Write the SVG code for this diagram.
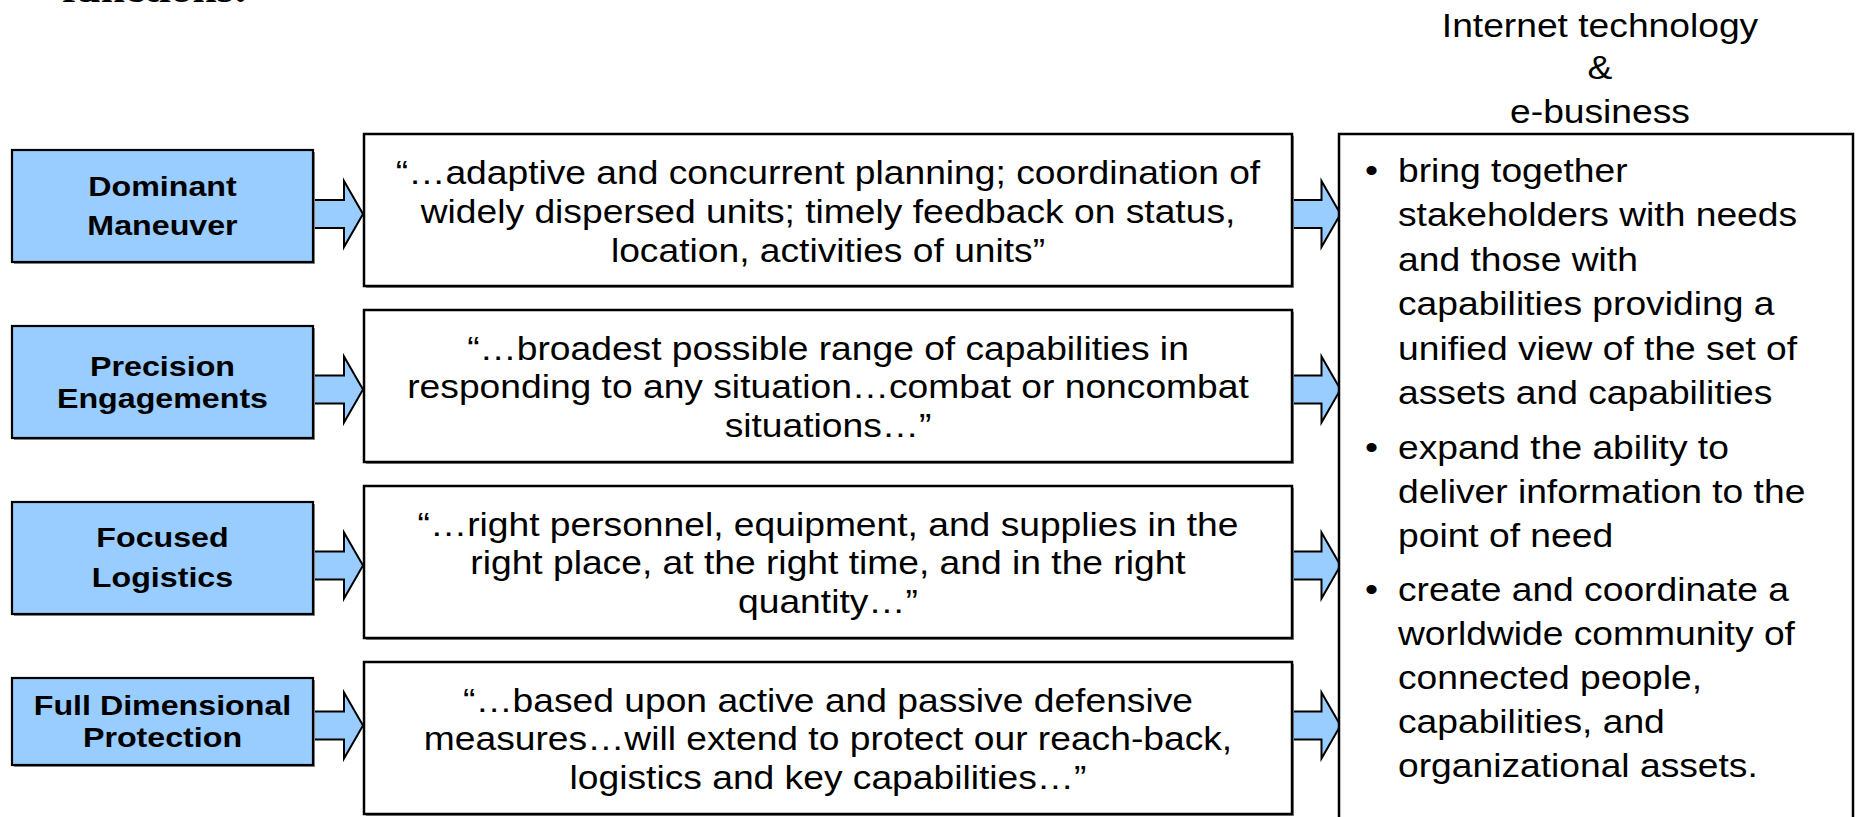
<svg xmlns="http://www.w3.org/2000/svg" xmlns:xlink="http://www.w3.org/1999/xlink" width="1856" height="817" viewBox="0 0 1856 817">
<style>
.bg{fill:#ffffff}
.blue{fill:#99CCFF;stroke:#000;stroke-width:2.2}
.white{fill:#ffffff;stroke:#000;stroke-width:2.5}
.shadow{fill:#8a8a8a}
.arrow{fill:#99CCFF;stroke:#000;stroke-width:2;stroke-linejoin:miter}
.lbl{font-family:"Liberation Sans",Arial,sans-serif;font-weight:bold;font-size:28.5px;fill:#000;text-anchor:middle}
.q{font-family:"Liberation Sans",Arial,sans-serif;font-size:32.5px;fill:#000;text-anchor:middle}
.b{font-family:"Liberation Sans",Arial,sans-serif;font-size:32.5px;fill:#000}
.hd{font-family:"Liberation Serif","Times New Roman",serif;font-weight:bold;font-size:38px;fill:#000}
</style>
<defs>
<path id="arr" d="M0,-14 H30.5 V-33 L49.5,0 L30.5,33 V14 H0 Z"/>
</defs>
<rect class="bg" x="0" y="0" width="1856" height="817"/>
<text class="hd" transform="translate(62,2) scale(1.145,1)">functions:</text>

<g id="connectors">
<use xlink:href="#arr" class="arrow" transform="translate(313.5,214)"/>
<use xlink:href="#arr" class="arrow" transform="translate(313.5,389.5)"/>
<use xlink:href="#arr" class="arrow" transform="translate(313.5,565.5)"/>
<use xlink:href="#arr" class="arrow" transform="translate(313.5,725.5)"/>
<use xlink:href="#arr" class="arrow" transform="translate(1291,214)"/>
<use xlink:href="#arr" class="arrow" transform="translate(1291,389.5)"/>
<use xlink:href="#arr" class="arrow" transform="translate(1291,565.5)"/>
<use xlink:href="#arr" class="arrow" transform="translate(1291,725.5)"/>
</g>

<g id="dominant-maneuver">
<rect class="shadow" x="14" y="152" width="301" height="112"/>
<rect class="blue" x="12" y="150" width="301" height="112"/>
<text class="lbl" transform="translate(162.5,196) scale(1.13,1)"><tspan x="0" y="0">Dominant</tspan><tspan x="0" y="39">Maneuver</tspan></text>
</g>
<g id="precision-engagements">
<rect class="shadow" x="14" y="328" width="301" height="112"/>
<rect class="blue" x="12" y="326" width="301" height="112"/>
<text class="lbl" transform="translate(162.5,376) scale(1.13,1)"><tspan x="0" y="0">Precision</tspan><tspan x="0" y="32">Engagements</tspan></text>
</g>
<g id="focused-logistics">
<rect class="shadow" x="14" y="504" width="301" height="112"/>
<rect class="blue" x="12" y="502" width="301" height="112"/>
<text class="lbl" transform="translate(162.5,547) scale(1.13,1)"><tspan x="0" y="0">Focused</tspan><tspan x="0" y="40">Logistics</tspan></text>
</g>
<g id="full-dimensional-protection">
<rect class="shadow" x="14" y="680" width="301" height="87"/>
<rect class="blue" x="12" y="678" width="301" height="87"/>
<text class="lbl" transform="translate(162.5,715) scale(1.13,1)"><tspan x="0" y="0">Full Dimensional</tspan><tspan x="0" y="32">Protection</tspan></text>
</g>

<g id="quote-maneuver">
<rect class="shadow" x="366" y="136" width="928" height="152"/>
<rect class="white" x="364" y="134" width="928" height="152"/>
<text class="q" transform="translate(828,184) scale(1.145,1)"><tspan x="0" y="0">“…adaptive and concurrent planning; coordination of</tspan><tspan x="0" y="39">widely dispersed units; timely feedback on status,</tspan><tspan x="0" y="78">location, activities of units”</tspan></text>
</g>
<g id="quote-engagements">
<rect class="shadow" x="366" y="312" width="928" height="152"/>
<rect class="white" x="364" y="310" width="928" height="152"/>
<text class="q" transform="translate(828,360) scale(1.145,1)"><tspan x="0" y="0">“…broadest possible range of capabilities in</tspan><tspan x="0" y="38.5">responding to any situation…combat or noncombat</tspan><tspan x="0" y="77">situations…”</tspan></text>
</g>
<g id="quote-logistics">
<rect class="shadow" x="366" y="488" width="928" height="152"/>
<rect class="white" x="364" y="486" width="928" height="152"/>
<text class="q" transform="translate(828,536) scale(1.145,1)"><tspan x="0" y="0">“…right personnel, equipment, and supplies in the</tspan><tspan x="0" y="38.5">right place, at the right time, and in the right</tspan><tspan x="0" y="77">quantity…”</tspan></text>
</g>
<g id="quote-protection">
<rect class="shadow" x="366" y="664" width="928" height="152"/>
<rect class="white" x="364" y="662" width="928" height="152"/>
<text class="q" transform="translate(828,712) scale(1.145,1)"><tspan x="0" y="0">“…based upon active and passive defensive</tspan><tspan x="0" y="38.5">measures…will extend to protect our reach-back,</tspan><tspan x="0" y="77">logistics and key capabilities…”</tspan></text>
</g>

<g id="internet-ebusiness">
<text class="q" transform="translate(1600,37) scale(1.145,1)"><tspan x="0" y="0">Internet technology</tspan><tspan x="0" y="42">&amp;</tspan><tspan x="0" y="86.5">e-business</tspan></text>
<rect class="white" x="1339" y="134" width="514" height="720"/>
<text class="b" transform="translate(1365,182) scale(1.145,1)"><tspan x="0" y="0">•</tspan><tspan x="0" y="277">•</tspan><tspan x="0" y="419">•</tspan></text>
<text class="b" transform="translate(1398,182) scale(1.145,1)"><tspan x="0" y="0">bring together</tspan><tspan x="0" y="44.4">stakeholders with needs</tspan><tspan x="0" y="88.8">and those with</tspan><tspan x="0" y="133.2">capabilities providing a</tspan><tspan x="0" y="177.6">unified view of the set of</tspan><tspan x="0" y="222">assets and capabilities</tspan><tspan x="0" y="277">expand the ability to</tspan><tspan x="0" y="321">deliver information to the</tspan><tspan x="0" y="365">point of need</tspan><tspan x="0" y="419">create and coordinate a</tspan><tspan x="0" y="463">worldwide community of</tspan><tspan x="0" y="507">connected people,</tspan><tspan x="0" y="551">capabilities, and</tspan><tspan x="0" y="595">organizational assets.</tspan></text>
</g>
</svg>
